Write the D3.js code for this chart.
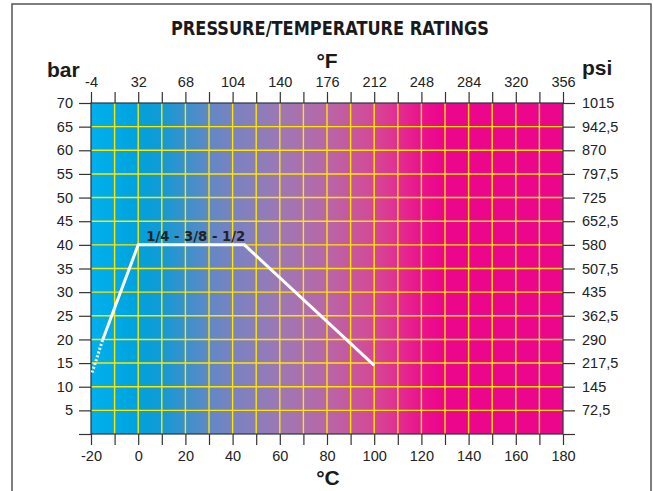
<!DOCTYPE html>
<html>
<head>
<meta charset="utf-8">
<script src="https://cdn.jsdelivr.net/npm/d3@7"></script>
<style>
  body { margin: 0; background: #fff; }
  svg { display: block; font-family: "Liberation Sans", Arial, Helvetica, sans-serif; }
  .tick text { font-size: 14.5px; fill: #222; }
  .tick line { stroke: #333; stroke-width: 1.2; }
</style>
</head>
<body>
<div id="chart"></div>
<script>
const width = 653;
const height = 491;

// temperature axis (°C bottom, °F top), pressure axis (bar left, psi right)
const celsiusLabels = [-20, 0, 20, 40, 60, 80, 100, 120, 140, 160, 180];
const fahrenheitLabels = [-4, 32, 68, 104, 140, 176, 212, 248, 284, 320, 356];
const barTicks = [0, 5, 10, 15, 20, 25, 30, 35, 40, 45, 50, 55, 60, 65, 70];
const psiTicks = [0, 72.5, 145, 217.5, 290, 362.5, 435, 507.5, 580, 652.5, 725, 797.5, 870, 942.5, 1015];

// rating curve for 1/4 - 3/8 - 1/2
const ratingTemp = [-15, 0, 45, 100];
const ratingBar = [20, 40, 40, 14.5];
const extendedTemp = [-19.5, -15];
const extendedBar = [13, 20];
const seriesLabel = "1/4 - 3/8 - 1/2";

// background colour by temperature
const gradTemp = [-20, -10, 0, 10, 20, 30, 40, 50, 60, 70, 80, 90, 100, 110, 120, 128, 180];
const gradColor = ["#00b0ec", "#00aae6", "#00a2dc", "#139ad4", "#3a91cc", "#6089c6", "#7a82c0", "#8a7ebc",
  "#9c78b4", "#ab70ad", "#b866a6", "#c6589e", "#d44896", "#e22e91", "#ea128d", "#ec068c", "#ec068c"];

let x = d3.scaleLinear().domain([-20, 180]).range([91, 563]);
let xF = d3.scaleLinear().domain([-4, 356]).range([91, 563]);
let y = d3.scaleLinear().domain([0, 70]).range([434, 103]);
let yP = d3.scaleLinear().domain([0, 1015]).range([434, 103]);

let svg = d3.select("#chart").append("svg")
  .attr("width", width)
  .attr("height", height);

// outer frame
svg.append("rect")
  .attr("x", 12).attr("y", 4)
  .attr("width", 639).attr("height", 500)
  .attr("fill", "none")
  .attr("stroke", "#555")
  .attr("stroke-width", 1.5);

let defs = svg.append("defs");
let grad = defs.append("linearGradient")
  .attr("id", "bg")
  .attr("gradientUnits", "userSpaceOnUse")
  .attr("x1", x(-20)).attr("x2", x(180))
  .attr("y1", 0).attr("y2", 0);
grad.selectAll("stop")
  .data(gradTemp)
  .enter().append("stop")
  .attr("offset", d => (d + 20) / 200)
  .attr("stop-color", (d, i) => gradColor[i]);

svg.append("rect")
  .attr("x", x(-20)).attr("y", y(70))
  .attr("width", x(180) - x(-20))
  .attr("height", y(0) - y(70))
  .attr("fill", "url(#bg)");

// yellow grid
let grid = svg.append("g").attr("stroke", "#ffe600").attr("stroke-width", 1.4);
grid.selectAll("line.v")
  .data(d3.range(-10, 180, 10))
  .enter().append("line")
  .attr("class", "v")
  .attr("x1", d => x(d)).attr("x2", d => x(d))
  .attr("y1", y(70)).attr("y2", y(0));
grid.selectAll("line.h")
  .data(barTicks.filter(d => d > 0 && d < 70))
  .enter().append("line")
  .attr("class", "h")
  .attr("x1", x(-20)).attr("x2", x(180))
  .attr("y1", d => y(d)).attr("y2", d => y(d));

// plot border
svg.append("rect")
  .attr("x", x(-20)).attr("y", y(70))
  .attr("width", x(180) - x(-20))
  .attr("height", y(0) - y(70))
  .attr("fill", "none")
  .attr("stroke", "#2a3440")
  .attr("stroke-width", 1.2);

// axes
let fTicks = d3.range(-4, 357, 18);
svg.append("g")
  .attr("transform", "translate(0," + y(70) + ")")
  .call(d3.axisTop(xF).tickValues(fTicks).tickSize(11).tickPadding(5)
    .tickFormat(d => fahrenheitLabels.includes(d) ? d : ""))
  .call(g => g.select(".domain").remove());

svg.append("g")
  .attr("transform", "translate(0," + y(0) + ")")
  .call(d3.axisBottom(x).tickValues(d3.range(-20, 181, 10)).tickSize(11).tickPadding(6)
    .tickFormat(d => celsiusLabels.includes(d) ? d : ""))
  .call(g => g.select(".domain").remove());

svg.append("g")
  .attr("transform", "translate(" + x(-20) + ",0)")
  .call(d3.axisLeft(y).tickValues(barTicks).tickSize(12).tickPadding(6)
    .tickFormat(d => d === 0 ? "" : d))
  .call(g => g.select(".domain").remove());

svg.append("g")
  .attr("transform", "translate(" + x(180) + ",0)")
  .call(d3.axisRight(yP).tickValues(psiTicks).tickSize(12).tickPadding(7)
    .tickFormat(d => d === 0 ? "" : String(d).replace(".", ",")))
  .call(g => g.select(".domain").remove());

svg.selectAll(".tick text").attr("font-family", null).attr("font-size", null);

// rating curve
let line = d3.line().x(d => x(d[0])).y(d => y(d[1]));
svg.append("path")
  .datum(d3.zip(ratingTemp, ratingBar))
  .attr("d", line)
  .attr("fill", "none")
  .attr("stroke", "#fff")
  .attr("stroke-width", 3)
  .attr("stroke-linejoin", "miter");
svg.append("path")
  .datum(d3.zip(extendedTemp, extendedBar))
  .attr("d", line)
  .attr("fill", "none")
  .attr("stroke", "#fff")
  .attr("stroke-width", 3)
  .attr("stroke-dasharray", "2,2");

svg.append("text")
  .attr("x", x(0) + 8)
  .attr("y", y(40) - 4)
  .attr("font-family", "'DejaVu Sans', sans-serif")
  .attr("font-size", 14.5)
  .attr("font-weight", "bold")
  .attr("fill", "#222")
  .attr("textLength", 99)
  .attr("lengthAdjust", "spacingAndGlyphs")
  .text(seriesLabel);

// titles
svg.append("text")
  .attr("x", 330).attr("y", 35)
  .attr("text-anchor", "middle")
  .attr("font-family", "'Liberation Sans Narrow', 'DejaVu Sans Condensed', sans-serif")
  .attr("font-weight", "bold")
  .attr("font-size", 20)
  .attr("fill", "#1a1a1a")
  .attr("textLength", 318)
  .attr("lengthAdjust", "spacingAndGlyphs")
  .text("PRESSURE/TEMPERATURE RATINGS");

let unitTitles = [
  { t: "bar", x: 47, y: 77, anchor: "start" },
  { t: "psi", x: 582, y: 75, anchor: "start" },
  { t: "°F", x: 327, y: 68, anchor: "middle" },
  { t: "°C", x: 328, y: 485, anchor: "middle" }
];
svg.selectAll("text.unit")
  .data(unitTitles)
  .enter().append("text")
  .attr("class", "unit")
  .attr("x", d => d.x).attr("y", d => d.y)
  .attr("text-anchor", d => d.anchor)
  .attr("font-weight", "bold")
  .attr("font-size", 21)
  .attr("fill", "#1a1a1a")
  .text(d => d.t);
</script>
</body>
</html>
